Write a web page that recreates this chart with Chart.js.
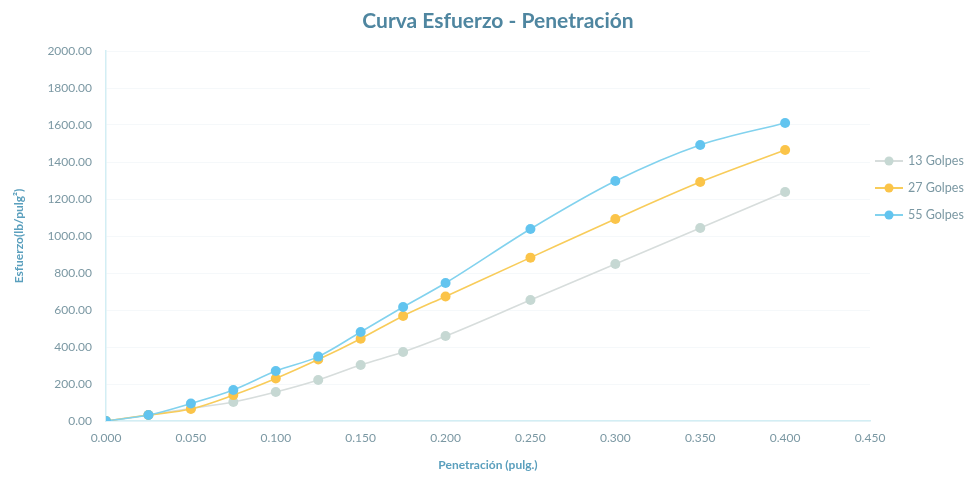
<!DOCTYPE html>
<html>
<head>
<meta charset="utf-8">
<script src="https://cdn.jsdelivr.net/npm/chart.js@4.4.1/dist/chart.umd.min.js"></script>
<style>
  html, body { margin: 0; padding: 0; background: #fff; }
  #wrap { width: 972px; height: 480px; }
</style>
</head>
<body>
<div id="wrap"><canvas id="myChart" width="972" height="480"></canvas></div>
<script>
// Penetración (pulg.)
const penetracion = [0, 0.025, 0.05, 0.075, 0.1, 0.125, 0.15, 0.175, 0.2, 0.25, 0.3, 0.35, 0.4];

// Esfuerzo (lb/pulg²)
const golpes13 = [0, 32, 68, 103, 157, 222, 303, 373, 459, 654, 849, 1043, 1238];
const golpes27 = [0, 32, 65, 140, 230, 332, 445, 568, 673, 883, 1092, 1292, 1465];
const golpes55 = [0, 32, 95, 168, 270, 348, 481, 616, 746, 1038, 1297, 1492, 1611];

const seriesNames = ['13 Golpes', '27 Golpes', '55 Golpes'];
const chartTitle = 'Curva Esfuerzo - Penetración';

const fontFam = 'Lato, "Open Sans", sans-serif';
const tickColor = '#7b98a3';
const axisTitleColor = '#5a9fbd';

function toPoints(values) {
    return values.map((v, i) => ({ x: penetracion[i], y: v }));
}

// título y leyenda a la derecha (línea con punto, como en Excel)
const excelDecor = {
    id: 'excelDecor',
    afterDraw(chart) {
        const ctx = chart.ctx;
        ctx.save();
        ctx.fillStyle = '#4f86a0';
        ctx.font = 'bold 21px ' + fontFam;
        ctx.textAlign = 'center';
        ctx.textBaseline = 'middle';
        ctx.fillText(chartTitle, 498, 21);
        ctx.restore();

        const x0 = 875;
        const rowY = [161, 188, 215];
        chart.data.datasets.forEach((ds, i) => {
            const y = rowY[i];
            ctx.save();
            ctx.strokeStyle = ds.borderColor;
            ctx.lineWidth = 2;
            ctx.beginPath();
            ctx.moveTo(x0, y);
            ctx.lineTo(x0 + 28, y);
            ctx.stroke();
            ctx.fillStyle = ds.pointBackgroundColor;
            ctx.beginPath();
            ctx.arc(x0 + 14, y, 4.5, 0, Math.PI * 2);
            ctx.fill();
            ctx.fillStyle = tickColor;
            ctx.font = '12.5px ' + fontFam;
            ctx.textBaseline = 'middle';
            ctx.textAlign = 'left';
            ctx.fillText(ds.label, x0 + 33, y);
            ctx.restore();
        });
    }
};

const ctx = document.getElementById('myChart').getContext('2d');
new Chart(ctx, {
    type: 'line',
    data: {
        datasets: [
            { label: seriesNames[0], data: toPoints(golpes13), borderColor: '#d7dddc', pointBackgroundColor: '#c6d8d3', order: 3 },
            { label: seriesNames[1], data: toPoints(golpes27), borderColor: '#f8cc5a', pointBackgroundColor: '#fbc449', order: 2 },
            { label: seriesNames[2], data: toPoints(golpes55), borderColor: '#82d2ee', pointBackgroundColor: '#62c4ef', order: 1 }
        ].map(d => Object.assign(d, {
            borderWidth: 1.6,
            pointRadius: 5,
            pointBorderWidth: 0,
            pointBorderColor: d.pointBackgroundColor,
            cubicInterpolationMode: 'monotone',
            fill: false
        }))
    },
    options: {
        responsive: false,
        animation: false,
        layout: { padding: { top: 51, right: 102, bottom: 0, left: 0 } },
        plugins: {
            legend: { display: false },
            tooltip: { enabled: false },
            title: { display: false }
        },
        scales: {
            x: {
                type: 'linear',
                min: 0,
                max: 0.45,
                afterFit: s => { s.height = 59; },
                ticks: {
                    stepSize: 0.05,
                    padding: 10,
                    color: tickColor,
                    font: { family: fontFam, size: 12 },
                    callback: v => Number(v).toFixed(3)
                },
                grid: { display: false, drawTicks: false },
                border: { color: '#d3eef4', width: 1.5 },
                title: {
                    display: true,
                    text: 'Penetración (pulg.)',
                    color: axisTitleColor,
                    font: { family: fontFam, size: 12, weight: 'bold' },
                    padding: { top: 4, bottom: 8 }
                }
            },
            y: {
                min: 0,
                max: 2000,
                afterFit: s => { s.width = 106; },
                ticks: {
                    stepSize: 200,
                    padding: 14,
                    color: tickColor,
                    font: { family: fontFam, size: 12 },
                    callback: v => Number(v).toFixed(2)
                },
                grid: { color: 'rgba(225,236,240,0.35)', drawTicks: false },
                border: { color: '#d3eef4', width: 1.5 },
                title: {
                    display: true,
                    text: 'Esfuerzo(lb/pulg²)',
                    color: axisTitleColor,
                    font: { family: fontFam, size: 12, weight: 'bold' },
                    padding: { top: 12, bottom: 0 }
                }
            }
        }
    },
    plugins: [excelDecor]
});
</script>
</body>
</html>
